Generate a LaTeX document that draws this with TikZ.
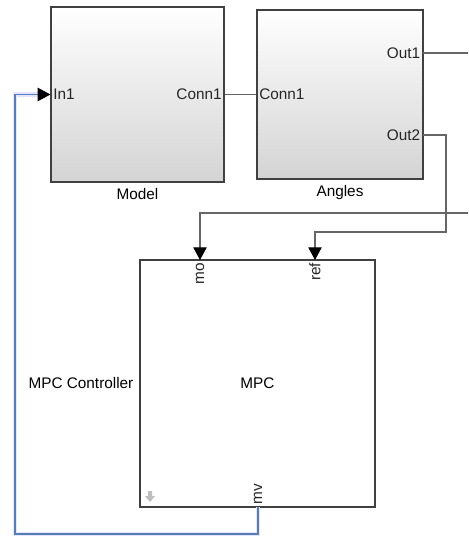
\documentclass[tikz,border=0pt]{standalone}
\usepackage{fontspec}
\setmainfont{Liberation Sans}
\usepackage{tikz}
\usetikzlibrary{arrows.meta, calc}
\usetikzlibrary{shadows}
\newcommand{\pxl}{0.75pt}

\begin{document}
\begin{tikzpicture}[x=0.75pt, y=-0.75pt, >={Triangle[length=9.5pt, width=10pt, color=black]},
  font=\fontsize{11.5}{13}\selectfont,
  blk/.style={draw=black!75, line width=0.9pt, rectangle, inner sep=0pt,
    drop shadow={shadow xshift=1pt, shadow yshift=-1pt, fill=black!45, opacity=0.8}},
  shadedblk/.style={blk, top color=white, bottom color=black!17},
  wire/.style={draw=black!60, line width=0.8pt},
  sig/.style={draw={rgb,255:red,85;green,125;blue,185}, line width=0.9pt,
    preaction={draw, blue!10, line width=3.2pt}},
  port/.style={inner sep=2pt, text=black!85}]

% --- Cornice ---
\clip (0,0) rectangle (468,539);
\fill[white] (0,0) rectangle (468,539);

% --- Blocchi ---
\node[shadedblk, minimum width=173*\pxl, minimum height=175*\pxl] (model) at (137.5,94.5) {};
\node[shadedblk, minimum width=166*\pxl, minimum height=169*\pxl] (angles) at (340,94.5) {};
\node[blk, fill=white, minimum width=235*\pxl, minimum height=247*\pxl] (mpc) at (257.5,383.5) {MPC};

\node[below=1pt] (modelname) at (model.south) {Model};
\node[below=1pt] (anglesname) at (angles.south) {Angles};
\node[left=1pt] (mpcname) at (mpc.west) {MPC Controller};

% --- Porte ---
\coordinate (in1) at (model.west);
\coordinate (mconn) at (model.east);
\coordinate (aconn) at (angles.west);
\coordinate (out1) at (423,53);
\coordinate (out2) at (423,135);
\coordinate (mo) at (200,260);
\coordinate (ref) at (315,260);
\coordinate (mv) at (258,507);

\node[port, anchor=west] (in1lbl) at (in1) {In1};
\node[port, anchor=east] (mconnlbl) at (mconn) {Conn1};
\node[port, anchor=west] (aconnlbl) at (aconn) {Conn1};
\node[port, anchor=east] (out1lbl) at (out1) {Out1};
\node[port, anchor=east] (out2lbl) at (out2) {Out2};
\node[port, anchor=east, rotate=90] (molbl) at (mo) {mo};
\node[port, anchor=east, rotate=90] (reflbl) at (ref) {ref};
\node[port, anchor=west, rotate=90] (mvlbl) at (mv) {mv};

% --- Icona freccia ---
\fill[black!25] (148,491) rectangle (152,496) (145,496) -- (155,496) -- (150,502) -- cycle;

% --- Collegamenti ---
\draw[wire] (mconn) -- (aconn);
\draw[wire, ->] (out1) -| ($(out1)+(49,160)$) -| (mo);
\draw[wire, ->] (out2) -| ($(out2)+(23,97)$) -| (ref);
\coordinate (fb) at (15,534);
\draw[sig] (mv) |- (fb) |- ($(in1)+(-11,0)$);
\draw[->, black, line width=0.9pt] ($(in1)+(-12,0)$) -- (in1);

\end{tikzpicture}
\end{document}
